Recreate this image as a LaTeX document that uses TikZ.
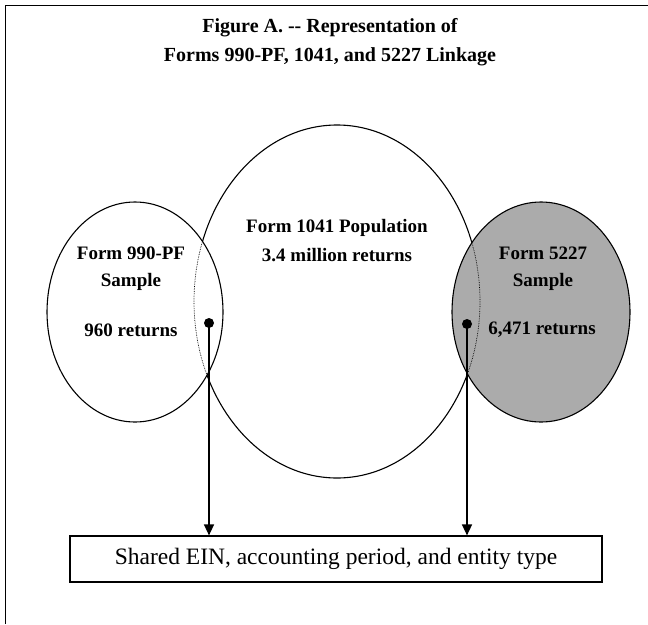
\documentclass[tikz,border=0pt]{standalone}
\usepackage{fontspec}
\setmainfont{Liberation Serif}
\usetikzlibrary{arrows.meta,shapes.geometric}

\begin{document}
\begin{tikzpicture}[x=1pt,y=-1pt,>={Triangle[width=10pt,length=11pt]},
        set node/.style={ellipse,draw,inner sep=0pt,line width=1.1pt},
        set label/.style={font=\bfseries\fontsize{19}{22}\selectfont},
        link/.style={->,line width=1.5pt}]
      \useasboundingbox (0,0) rectangle (648,624);

      % frame and title
      \draw[line width=1pt] (5,624) -- (5,5) -- (648,5);
      \node[font=\bfseries\fontsize{20}{29}\selectfont,align=center] (title) at (330,42)
        {Figure A. -{}- Representation of\\Forms 990-PF, 1041, and 5227 Linkage};

      % the three sets
      \node[set node,minimum width=286pt,minimum height=353pt] (pop) at (337,301.5) {};
      \node[set node,fill=white,minimum width=176pt,minimum height=220pt] (pf) at (135,312) {};
      \begin{scope}
        \clip (135,312) ellipse [x radius=88pt,y radius=110pt];
        \draw[densely dotted,line width=0.7pt] (337,301.5) ellipse [x radius=143pt,y radius=176.5pt];
      \end{scope}
      \node[set node,fill=black!33,minimum width=178pt,minimum height=220pt] (ct) at (541,312) {};
      \begin{scope}
        \clip (541,312) ellipse [x radius=89pt,y radius=110pt];
        \draw[densely dotted,line width=0.7pt] (337,301.5) ellipse [x radius=143pt,y radius=176.5pt];
      \end{scope}

      \node[set label] (poptop) at (337,228) {Form 1041 Population};
      \node[set label] (popn) at (337,255) {3.4 million returns};
      \node[set label] (pftop) at (131,253) {Form 990-PF};
      \node[set label] (pfmid) at (131,282) {Sample};
      \node[set label] (pfn) at (131,330) {960 returns};
      \node[set label] (cttop) at (543,253) {Form 5227};
      \node[set label] (ctmid) at (543,282) {Sample};
      \node[set label] (ctn) at (542,330) {6,471 returns};

      % linkage
      \node[draw,line width=1.2pt,minimum width=532pt,minimum height=46pt,
        font=\fontsize{23.5}{26}\selectfont] (ein) at (336,559)
        {Shared EIN, accounting period, and entity type};
      \node[circle,fill,inner sep=0pt,minimum size=10pt] (pfdot) at (209,323) {};
      \node[circle,fill,inner sep=0pt,minimum size=10pt] (ctdot) at (467,324) {};
      \draw[link] (pfdot.center) -- (pfdot |- ein.north);
      \draw[link] (ctdot.center) -- (ctdot |- ein.north);
\end{tikzpicture}
\end{document}
